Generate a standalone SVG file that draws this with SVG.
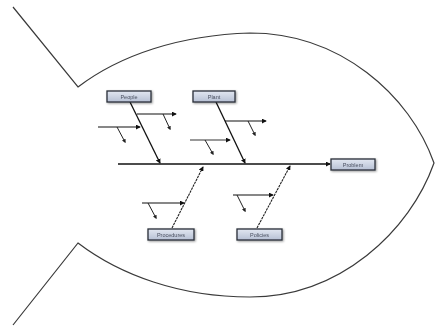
<svg xmlns="http://www.w3.org/2000/svg" width="435" height="326" viewBox="0 0 435 326">
<defs>
<marker id="ah" viewBox="0 0 6 6" refX="5" refY="3" markerWidth="5" markerHeight="5" orient="auto" markerUnits="userSpaceOnUse"><path d="M0,0 L6,3 L0,6 Z" fill="#111"/></marker>
<marker id="dot" viewBox="0 0 6 6" refX="4" refY="3" markerWidth="4" markerHeight="4" orient="auto" markerUnits="userSpaceOnUse"><path d="M0,0 L6,3 L0,6 Z" fill="#222"/></marker>
<linearGradient id="bg" x1="0" y1="0" x2="0" y2="1"><stop offset="0" stop-color="#e2e7f1"/><stop offset="1" stop-color="#b6c0d4"/></linearGradient>
<filter id="sh" x="-20%" y="-40%" width="140%" height="180%"><feGaussianBlur in="SourceAlpha" stdDeviation="0.8"/><feOffset dx="0.8" dy="0.8"/><feComponentTransfer><feFuncA type="linear" slope="0.4"/></feComponentTransfer><feMerge><feMergeNode/><feMergeNode in="SourceGraphic"/></feMerge></filter>
</defs>
<style>
.fish{fill:none;stroke:#3a3a3a;stroke-width:1.2}
.bone{fill:none;stroke:#111;stroke-width:1.3}
.lbone{fill:none;stroke:#222;stroke-width:1.1;stroke-dasharray:2.5,0.8}
.sub{fill:none;stroke:#111;stroke-width:1.1}
.tick{fill:none;stroke:#222;stroke-width:1}
.box{fill:url(#bg);stroke:#2a2f3a;stroke-width:1.3}
.lbl{font-family:"Liberation Sans",Arial,sans-serif;font-size:5.5px;fill:#4a5060;text-anchor:middle}
</style>
<rect width="435" height="326" fill="#fff"/>
<path class="fish" d="M13,7 L78,87 C120,55 180,35 250,33 C340,33 410,95 434,163 C410,231 340,297 250,297 C180,297 120,275 78,243 L13,325"/>
<g id="connectors">
<line class="bone" x1="118" y1="164" x2="330" y2="164" marker-end="url(#ah)"/>
<line class="bone" x1="130" y1="102" x2="160" y2="163" marker-end="url(#ah)"/>
<line class="sub" x1="137" y1="114" x2="176" y2="114" marker-end="url(#ah)"/>
<line class="tick" x1="163" y1="114" x2="170" y2="129" marker-end="url(#dot)"/>
<line class="sub" x1="98" y1="127" x2="140" y2="127" marker-end="url(#ah)"/>
<line class="tick" x1="117" y1="127" x2="125" y2="142" marker-end="url(#dot)"/>
<line class="bone" x1="216" y1="102" x2="245" y2="163" marker-end="url(#ah)"/>
<line class="sub" x1="225" y1="121" x2="266" y2="121" marker-end="url(#ah)"/>
<line class="tick" x1="248" y1="121" x2="255" y2="135" marker-end="url(#dot)"/>
<line class="sub" x1="190" y1="140" x2="230" y2="140" marker-end="url(#ah)" style="stroke:#777;stroke-width:1.6"/>
<line class="tick" x1="205" y1="140" x2="213" y2="154" marker-end="url(#dot)"/>
<line class="lbone" x1="172" y1="228" x2="203" y2="167" marker-end="url(#ah)"/>
<line class="sub" x1="142" y1="203" x2="184" y2="203" marker-end="url(#ah)"/>
<line class="tick" x1="148" y1="203" x2="156" y2="218" marker-end="url(#dot)"/>
<line class="lbone" x1="257" y1="228" x2="290" y2="166" marker-end="url(#ah)"/>
<line class="sub" x1="233" y1="195" x2="273" y2="195" marker-end="url(#ah)"/>
<line class="tick" x1="237" y1="195" x2="245" y2="211" marker-end="url(#dot)"/>
</g>
<g id="people" filter="url(#sh)"><rect class="box" x="107" y="91" width="44" height="11"/><text class="lbl" x="129" y="98.5">People</text></g>
<g id="plant" filter="url(#sh)"><rect class="box" x="193" y="91" width="42" height="11"/><text class="lbl" x="214" y="98.5">Plant</text></g>
<g id="procedures" filter="url(#sh)"><rect class="box" x="148" y="229" width="46" height="11"/><text class="lbl" x="171" y="236.5">Procedures</text></g>
<g id="policies" filter="url(#sh)"><rect class="box" x="237" y="229" width="45" height="11"/><text class="lbl" x="259.5" y="236.5">Policies</text></g>
<g id="problem" filter="url(#sh)"><rect class="box" x="331" y="159" width="44" height="11"/><text class="lbl" x="353" y="166.5">Problem</text></g>
</svg>
